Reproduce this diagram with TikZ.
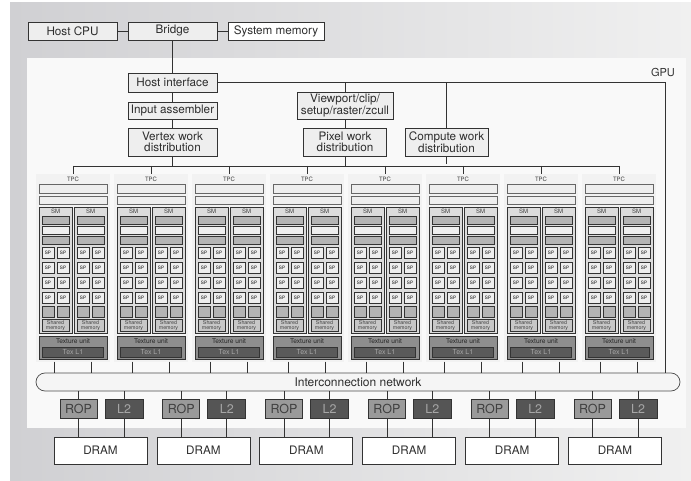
\documentclass[tikz,border=0pt]{standalone}
\usepackage{fontspec}
\setmainfont{TeX Gyre Heros}
\usetikzlibrary{calc}

\definecolor{bgdark}{HTML}{D0D0D3}
\definecolor{bglight}{HTML}{F0F0F0}
\definecolor{panel}{HTML}{F9F9F9}
\definecolor{linec}{HTML}{333333}
\definecolor{boxfill}{HTML}{EEEEEE}
\definecolor{tpcfill}{HTML}{F2F2F2}
\definecolor{smfill}{HTML}{DCDCDC}
\definecolor{darkbar}{HTML}{B4B4B4}
\definecolor{texfill}{HTML}{8E8E8E}
\definecolor{texlone}{HTML}{5A5A5A}
\definecolor{ropfill}{HTML}{9A9A9A}
\definecolor{ltwofill}{HTML}{555555}

\tikzset{
  fsz/.style={font=\fontsize{#1}{#1}\selectfont},
  unit/.style={draw=linec, line width=0.7pt, inner sep=0pt, align=center, text=black!82,
    font=\fontsize{11.7}{11}\selectfont},
  graybox/.style={unit, fill=boxfill},
  whitebox/.style={unit, fill=white},
  tpcbox/.style={draw=black!72, double=tpcfill, double distance=0.9pt, line width=0.45pt,
    fill=tpcfill, minimum width=73, minimum height=187, inner sep=0pt},
  tpcbar/.style={draw=black!60, line width=0.5pt, fill=boxfill, minimum width=68, inner sep=0pt},
  smbox/.style={draw=linec, line width=0.6pt, fill=smfill, minimum width=33, minimum height=126, inner sep=0pt},
  smbar/.style={draw=linec, line width=0.5pt, minimum width=27, minimum height=8, inner sep=0pt},
  spbox/.style={draw=linec, line width=0.5pt, fill=boxfill, minimum width=12, minimum height=11,
    inner sep=0pt, fsz=4.6},
  conn/.style={draw=linec, line width=0.7pt}
}

\begin{document}
\begin{tikzpicture}[x=1pt,y=-1pt]
  \useasboundingbox (0,0) rectangle (691,481);
  % Background
  \shade[left color=bgdark, right color=bglight] (10,3) rectangle (691,481);
  \fill[panel] (27,58) rectangle (686,428);
  \node[fsz=11, text=black!80] (gpu) at (663,72) {GPU};

  % Host side
  \node[graybox, minimum width=89, minimum height=18] (hostcpu) at (72.5,31) {Host CPU};
  \node[graybox, minimum width=89, minimum height=18] (bridge) at (172.5,31) {Bridge};
  \node[whitebox, minimum width=96, minimum height=18] (sysmem) at (276,31) {System memory};

  % Front end
  \node[graybox, minimum width=89, minimum height=19] (hostif) at (172.5,82.5) {Host interface};
  \node[graybox, minimum width=89, minimum height=17] (inasm) at (172.5,110.5) {Input assembler};
  \node[graybox, minimum width=89, minimum height=28] (vertex) at (172.5,142) {Vertex work\\distribution};
  \node[graybox, minimum width=96, minimum height=27] (viewport) at (345,105.5) {Viewport/clip/\\setup/raster/zcull};
  \node[graybox, minimum width=83, minimum height=28] (pixel) at (345,142) {Pixel work\\distribution};
  \node[graybox, minimum width=83, minimum height=28] (compute) at (446.5,142) {Compute work\\distribution};

  % Interconnection network
  \node[draw=black!70, line width=0.7pt, fill=boxfill!60, rounded corners=9, text=black!82,
    minimum width=644, minimum height=18, inner sep=0pt, fsz=12] (net) at (358,382) {Interconnection network};

  % TPCs
  \foreach \i in {1,...,8}{
    \pgfmathsetmacro{\cx}{73+78*(\i-1)}
    \node[tpcbox] (tpc\i) at (\cx,268) {};
    \node[fsz=6, text=black!75, inner sep=0pt] (tpclbl\i) at (\cx,179.5) {TPC};
    \node[tpcbar, minimum height=9] (bara\i) at (\cx,188.5) {};
    \node[tpcbar, minimum height=8] (barb\i) at (\cx,200.5) {};
    \foreach \j in {0,1}{
      \pgfmathsetmacro{\sx}{\cx-17.5+35*\j}
      \node[smbox] (sm\i-\j) at (\sx,270) {};
      \node[fsz=6, text=black!75, inner sep=0pt] (smlbl\i-\j) at (\sx,211.5) {SM};
      \node[smbar, fill=darkbar] (smba\i-\j) at (\sx,220) {};
      \node[smbar, fill=boxfill] (smbb\i-\j) at (\sx,230.5) {};
      \node[smbar, fill=darkbar] (smbc\i-\j) at (\sx,240.5) {};
      \foreach \r in {0,...,3}{
        \node[spbox] (sp\i-\j-\r a) at (\sx-7.5,252.5+15*\r) {SP};
        \node[spbox] (sp\i-\j-\r b) at (\sx+7.5,252.5+15*\r) {SP};
      }
      \node[spbox, fill=darkbar] (sq\i-\j a) at (\sx-7.5,311.5) {};
      \node[spbox, fill=darkbar] (sq\i-\j b) at (\sx+7.5,311.5) {};
      \node[smbar, fill=black!22, minimum height=12, fsz=5.3, align=center, text=black!75]
        (shm\i-\j) at (\sx,325.5) {Shared\\[-0.6pt]memory};
    }
    \node[draw=linec, line width=0.6pt, fill=texfill, minimum width=68, minimum height=23,
      inner sep=0pt] (tex\i) at (\cx,347.5) {};
    \node[fsz=6.6, text=black!85, inner sep=0pt] (texlbl\i) at (\cx,341.5) {Texture unit};
    \node[draw=linec, line width=0.6pt, fill=texlone, minimum width=61, minimum height=10,
      inner sep=0pt, fsz=7, text=black!35] (texl\i) at (\cx,352.5) {Tex L1};
  }

  % Memory partitions
  \foreach \k in {0,...,5}{
    \pgfmathsetmacro{\px}{78.5+102.8*\k}
    \pgfmathsetmacro{\dx}{100.5+102.9*\k}
    \node[unit, fill=ropfill, minimum width=37, minimum height=19, fsz=12.5, text=black!75] (rop\k) at (\px,408.5) {ROP};
    \node[unit, fill=ltwofill, minimum width=38, minimum height=19, fsz=12.5, text=black!35] (ltwo\k) at (\px+45.5,408.5) {L2};
    \node[whitebox, minimum width=93, minimum height=27] (dram\k) at (\dx,450.5) {DRAM};
  }

  % Edges
  \draw[conn] (hostcpu) -- (bridge);
  \draw[conn] (bridge) -- (sysmem);
  \draw[conn] (bridge) -- (hostif);
  \draw[conn] (hostif) -- (inasm);
  \draw[conn] (inasm) -- (vertex);
  \draw[conn] (viewport) -- (pixel);
  \coordinate (hostR) at (665,82.5);
  \draw[conn] (hostif.east) -- (hostR) -- (hostR |- net.north);
  \draw[conn] (viewport.north) -- (viewport.north |- hostR);
  \draw[conn] (compute.north) -- (compute.north |- hostR);

  \coordinate (busL) at (73,166);
  \coordinate (busR) at (619,166);
  \draw[conn] (busL) -- (busR);
  \draw[conn] (vertex.south) -- (vertex.south |- busL);
  \draw[conn] (pixel.south) -- (pixel.south |- busL);
  \draw[conn] (compute.south) -- ([yshift=1.5]compute.south |- busL);
  \foreach \i in {1,...,8}{
    \draw[conn] (tpc\i.north |- busL) -- (tpc\i.north);
    \draw[conn] ([xshift=-18.5]tpc\i.south) -- ([xshift=-18.5]tpc\i.south |- net.north);
    \draw[conn] ([xshift=18.5]tpc\i.south) -- ([xshift=18.5]tpc\i.south |- net.north);
  }
  \foreach \k in {0,...,5}{
    \draw[conn] (rop\k.north |- net.south) -- (rop\k.north);
    \draw[conn] (ltwo\k.north |- net.south) -- (ltwo\k.north);
    \draw[conn] (rop\k.south) -- (rop\k.south |- dram\k.north);
    \draw[conn] (ltwo\k.south) -- (ltwo\k.south |- dram\k.north);
  }
\end{tikzpicture}
\end{document}
